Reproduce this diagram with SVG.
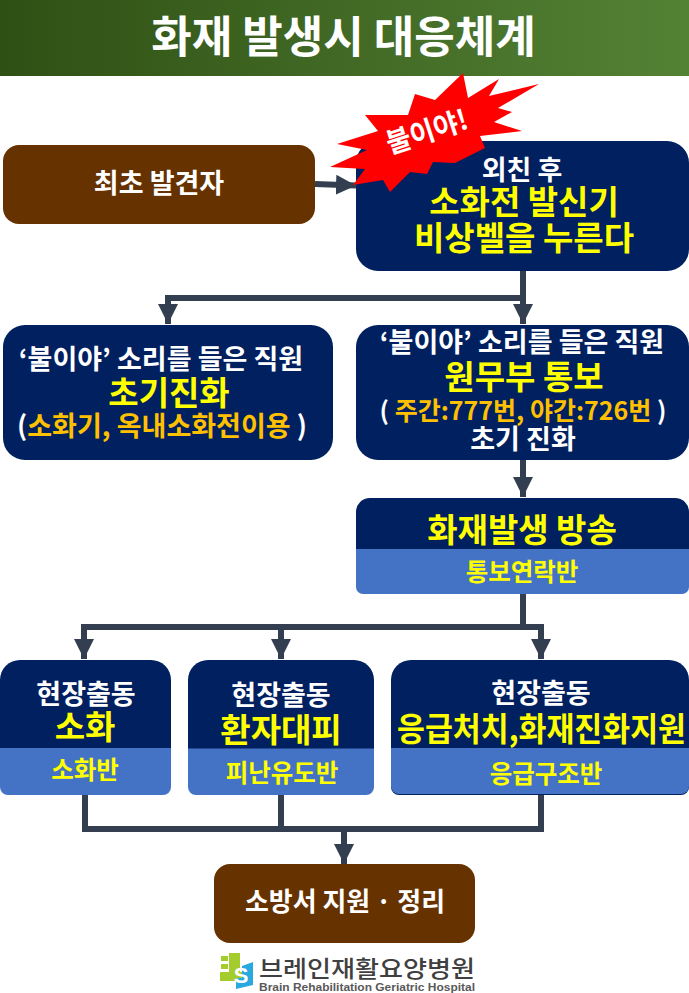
<svg xmlns="http://www.w3.org/2000/svg" width="689" height="993" viewBox="0 0 689 993">
<style>
text{font-family:"Noto Sans CJK KR","Liberation Sans",sans-serif;font-weight:700;text-anchor:middle}
.w{fill:#fff}.y{fill:#ffff00}.o{fill:#ffc000}
.navy{fill:#002060}.blue{fill:#4472c4}.brown{fill:#663300}
.c{fill:none;stroke:#333f50;stroke-width:6}
.s24{font-size:24.5px}.s27{font-size:27px}.s33{font-size:33px}
</style>
<defs>
<linearGradient id="g" x1="0" x2="1" y1="0" y2="0"><stop offset="0" stop-color="#2f5014"/><stop offset="1" stop-color="#548235"/></linearGradient>
<marker id="a" markerUnits="userSpaceOnUse" markerWidth="20" markerHeight="20" refX="18" refY="9" orient="auto" viewBox="0 0 18 18"><path d="M0 0L18 9L0 18Z" fill="#333f50"/></marker>
</defs>
<rect width="689" height="993" fill="#fff"/>
<g id="title"><rect width="689" height="76" fill="url(#g)"/><text x="343.500" y="53" class="w" font-size="44">화재 발생시 대응체계</text></g>
<g id="connectors">
<path class="c" d="M315 184L356 185.500" marker-end="url(#a)"/>
<path class="c" d="M523 270V324" marker-end="url(#a)"/>
<path class="c" d="M523 298H168V324" marker-end="url(#a)"/>
<path class="c" d="M523 459V497" marker-end="url(#a)"/>
<path class="c" d="M523 594V627H84V659" marker-end="url(#a)"/>
<path class="c" d="M281 627V659" marker-end="url(#a)"/>
<path class="c" d="M523 627H541V659" marker-end="url(#a)"/>
<path class="c" d="M85 794V829H541V794"/>
<path class="c" d="M281 794V829"/>
<path class="c" d="M344 829V864" marker-end="url(#a)"/>
</g>
<g id="n-first"><rect x="3" y="145" width="312" height="79" rx="16" class="brown"/><text x="159" y="193" class="w s27">최초 발견자</text></g>
<g id="n-press"><rect x="356" y="141" width="333" height="130" rx="22" class="navy"/>
<text x="522" y="180" class="w s27">외친 후</text><text x="524" y="214" class="y s33">소화전 발신기</text><text x="524" y="250" class="y s33">비상벨을 누른다</text></g>
<g id="n-burst"><path fill="#ff0000" d="M463 73L468 98L499 79L489 96L539 84L498 108L512 112L494 122L522 131L480 136L485 148L455 163L433 162L427 174L410 172L390 192L383 180L353 185L365 169L330 167L367 150L337 144L378 131L365 115L408 115L415 94L435 100Z"/><text transform="translate(430 141) rotate(-18)" class="w" font-size="28" textLength="84" lengthAdjust="spacingAndGlyphs">불이야!</text></g>
<g id="n-left"><rect x="3" y="325" width="330" height="135" rx="22" class="navy"/>
<text x="161" y="369" class="w s27">‘불이야’ 소리를 들은 직원</text><text x="169" y="405" class="y s33">초기진화</text><text x="162" y="436" class="o s27"><tspan class="w">(</tspan>소화기, 옥내소화전이용 <tspan class="w">)</tspan></text></g>
<g id="n-right"><rect x="356" y="325" width="333" height="135" rx="22" class="navy"/>
<text x="522" y="352" class="w s27">‘불이야’ 소리를 들은 직원</text><text x="524" y="389" class="y s33">원무부 통보</text><text x="523" y="420" class="o" font-size="25"><tspan class="w">(</tspan> 주간:777번, 야간:726번 <tspan class="w">)</tspan></text><text x="523" y="449" class="w s27">초기 진화</text></g>
<g id="n-broadcast"><path class="navy" d="M356 564V512a14 14 0 0 1 14-14H675a14 14 0 0 1 14 14V564Z"/><path class="blue" d="M356 549H689V587a7 7 0 0 1-7 7H363a7 7 0 0 1-7-7Z"/><text x="522" y="542" class="y s33">화재발생 방송</text><text x="522" y="581" class="y s24">통보연락반</text></g>
<g id="n-a"><path class="navy" d="M0 680a20 20 0 0 1 20-20H151a20 20 0 0 1 20 20V760H0Z"/><path class="blue" d="M0 748H171V787a8 8 0 0 1-8 8H8a8 8 0 0 1-8-8Z"/><text x="86" y="704" class="w s27">현장출동</text><text x="85" y="739" class="y s33">소화</text><text x="85" y="779" class="y s24">소화반</text></g>
<g id="n-b"><path class="navy" d="M188 680a20 20 0 0 1 20-20H354a20 20 0 0 1 20 20V760H188Z"/><path class="blue" d="M188 748.500H374V787a8 8 0 0 1-8 8H196a8 8 0 0 1-8-8Z"/><text x="281" y="705" class="w s27">현장출동</text><text x="281" y="742" class="y s33">환자대피</text><text x="282" y="782" class="y s24">피난유도반</text></g>
<g id="n-c"><path class="navy" d="M391 680a20 20 0 0 1 20-20H669a20 20 0 0 1 20 20V787a8 8 0 0 1-8 8H399a8 8 0 0 1-8-8Z"/><path class="blue" d="M391 748H689V786a8 8 0 0 1-8 8H399a8 8 0 0 1-8-8Z"/><text x="541" y="703" class="w s27">현장출동</text><text x="541.500" y="741" class="y s33" textLength="289" lengthAdjust="spacingAndGlyphs">응급처치,화재진화지원</text><text x="546" y="783" class="y s24">응급구조반</text></g>
<g id="n-end"><rect x="214" y="864" width="261" height="79" rx="16" class="brown"/><text x="345" y="911" class="w" font-size="26.500" textLength="200" lengthAdjust="spacingAndGlyphs">소방서 지원 · 정리</text></g>
<g id="logo">
<rect x="221" y="956" width="7" height="5" fill="#a4cc2c"/><rect x="221" y="964" width="7" height="5" fill="#a4cc2c"/><rect x="220" y="972" width="22" height="9" fill="#a4cc2c"/><rect x="229" y="953" width="11" height="22" fill="#a4cc2c"/>
<path d="M242 966L253 962V985L236 989V978H242Z" fill="#29a9e0"/>
<text x="241" y="983" class="w" font-size="22" style="font-family:'Liberation Sans',sans-serif">S</text>
<text x="367" y="977" font-size="23" fill="#404040" textLength="216" lengthAdjust="spacingAndGlyphs" style="font-weight:500">브레인재활요양병원</text>
<text x="367" y="991" font-size="11" fill="#595959" textLength="216" lengthAdjust="spacingAndGlyphs" style="font-family:'Liberation Sans',sans-serif">Brain Rehabilitation Geriatric Hospital</text>
</g>
</svg>
